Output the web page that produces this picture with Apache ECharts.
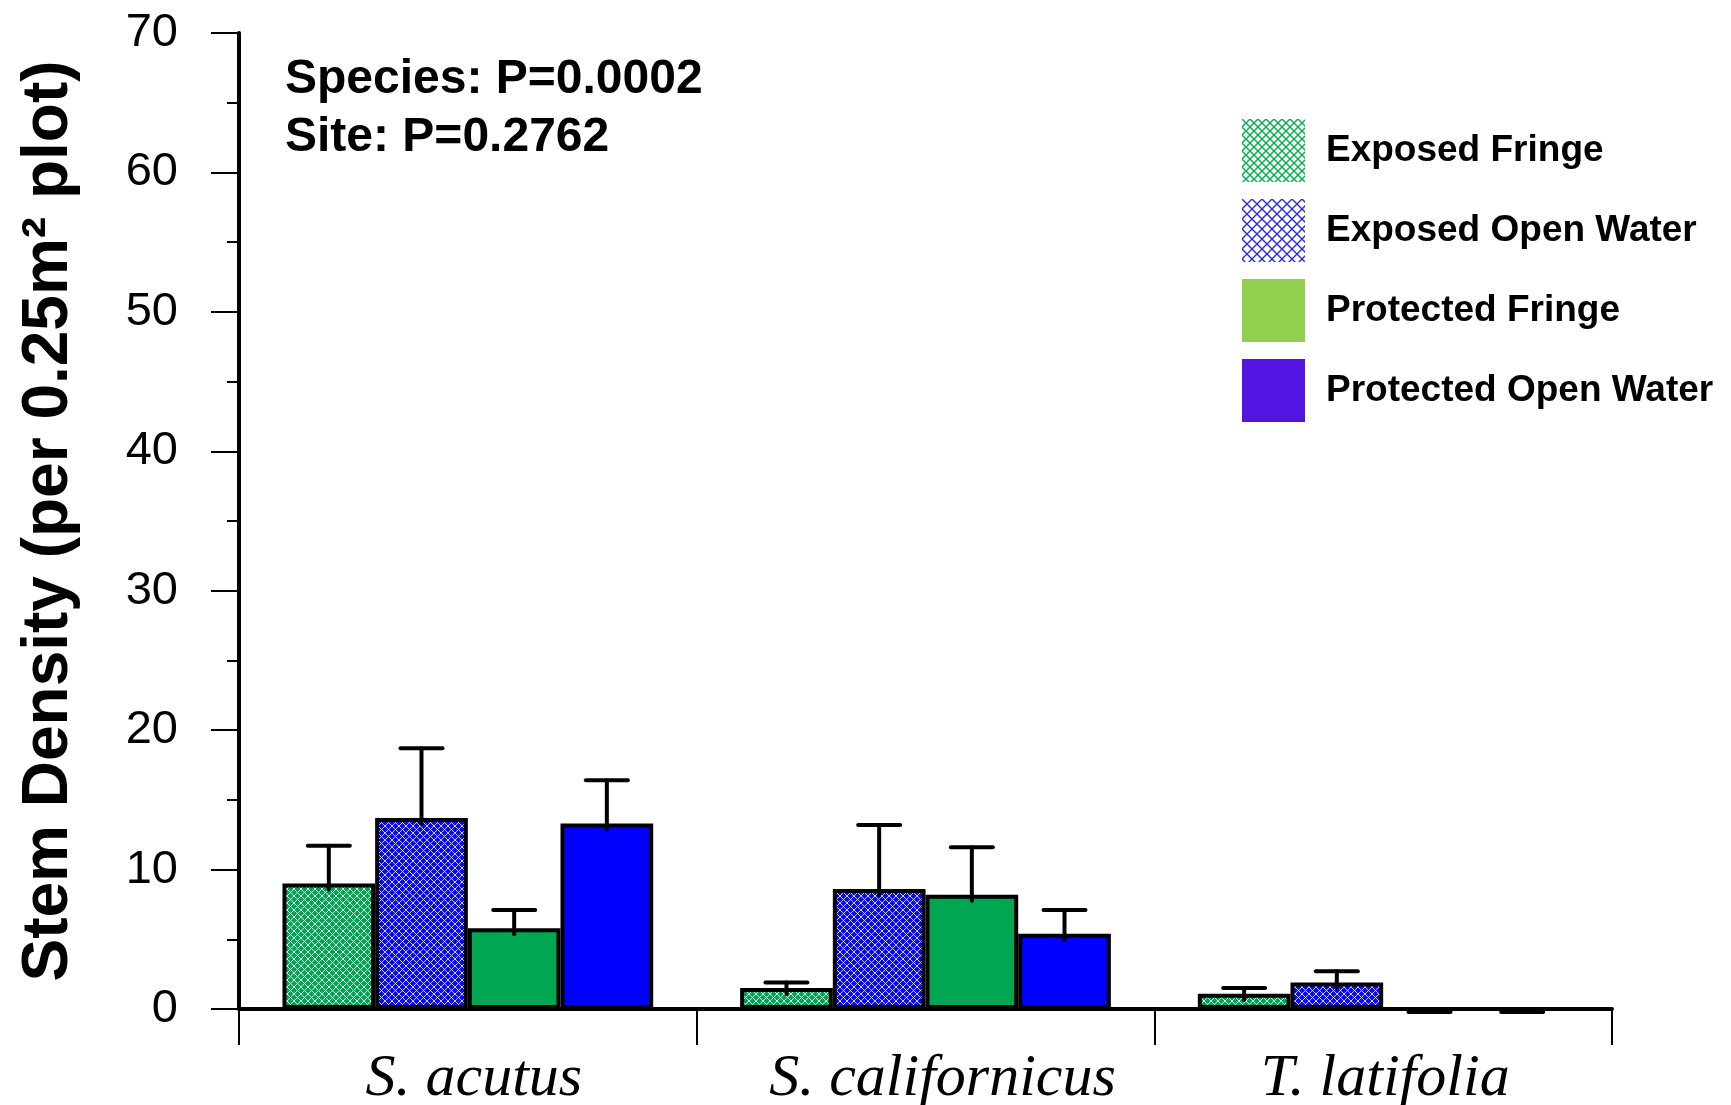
<!DOCTYPE html>
<html>
<head>
<meta charset="utf-8">
<script src="https://cdn.jsdelivr.net/npm/echarts@6/dist/echarts.min.js"></script>
<style>
  html, body { margin: 0; padding: 0; background: #fff; }
  #chart { width: 1731px; height: 1105px; }
</style>
</head>
<body>
<div id="chart"></div>
<script>
// Stem density by species and site (mean ± SE per 0.25 m² plot)
const species = ['S. acutus', 'S. californicus', 'T. latifolia'];
const seriesNames = ['Exposed Fringe', 'Exposed Open Water', 'Protected Fringe', 'Protected Open Water'];
const exposedFringe = [9.0, 1.5, 1.1];
const exposedOpenWater = [13.7, 8.6, 1.9];
const protectedFringe = [5.8, 8.2, 0];
const protectedOpenWater = [13.3, 5.4, 0];
const seExposedFringe = [2.7, 0.4, 0.4];
const seExposedOpenWater = [5.0, 4.6, 0.8];
const seProtectedFringe = [1.3, 3.4, 0];
const seProtectedOpenWater = [3.1, 1.7, 0];
const yTicks = [0, 10, 20, 30, 40, 50, 60, 70];
const statsText = ['Species: P=0.0002', 'Site: P=0.2762'];

const means = [exposedFringe, exposedOpenWater, protectedFringe, protectedOpenWater];
const errors = [seExposedFringe, seExposedOpenWater, seProtectedFringe, seProtectedOpenWater];

// crosshatch tiles
function hatch(bg, line, size, width) {
  const c = document.createElement('canvas');
  c.width = size; c.height = size;
  const ctx = c.getContext('2d');
  ctx.fillStyle = bg;
  ctx.fillRect(0, 0, size, size);
  ctx.strokeStyle = line;
  ctx.lineWidth = width;
  ctx.beginPath();
  ctx.moveTo(0, 0); ctx.lineTo(size, size);
  ctx.moveTo(size, 0); ctx.lineTo(0, size);
  ctx.stroke();
  return { image: c, repeat: 'repeat' };
}

const greenHatchBar = hatch('#00A651', 'rgba(255,255,255,0.85)', 7, 1);
const blueHatchBar = hatch('#0a0af5', 'rgba(255,255,255,0.8)', 7, 1);
const greenHatchKey = hatch('#ffffff', '#00B04a', 8, 1.4);
const blueHatchKey = hatch('#ffffff', '#2a2ae6', 10, 1.4);

const barFills = [greenHatchBar, blueHatchBar, '#00A651', '#0000FF'];
const keyFills = [greenHatchKey, blueHatchKey, '#92D050', '#5214E0'];

const CAT_GAP = 0.19;
const nSeries = seriesNames.length;

const barSeries = seriesNames.map((name, i) => ({
  name: name,
  type: 'bar',
  data: means[i],
  barGap: '0%',
  barCategoryGap: (CAT_GAP * 100) + '%',
  itemStyle: { color: barFills[i], borderColor: '#000', borderWidth: 4 },
  z: 2
}));

const errorData = [];
means.forEach((vals, s) => {
  vals.forEach((v, c) => errorData.push([c, v, errors[s][c], s]));
});

const errorSeries = {
  type: 'custom',
  name: 'SE',
  data: errorData,
  z: 5,
  silent: true,
  renderItem: function (params, api) {
    const c = api.value(0), v = api.value(1), se = api.value(2), s = api.value(3);
    const band = api.size([1, 0])[0];
    const bw = band * (1 - CAT_GAP) / nSeries;
    const cx = api.coord([c, 0])[0] - band * (1 - CAT_GAP) / 2 + (s + 0.5) * bw;
    const yTop = api.coord([c, v])[1];
    const yCap = api.coord([c, v + se])[1];
    const capHalf = 21;
    const style = { stroke: '#000', lineWidth: 4, lineCap: 'round' };
    if (v === 0 && se === 0) {
      const y0 = yTop + 3;
      return { type: 'line', shape: { x1: cx - capHalf, y1: y0, x2: cx + capHalf, y2: y0 }, style: style };
    }
    return {
      type: 'group',
      children: [
        { type: 'line', shape: { x1: cx, y1: yTop + 6, x2: cx, y2: yCap }, style: style },
        { type: 'line', shape: { x1: cx - capHalf, y1: yCap, x2: cx + capHalf, y2: yCap }, style: style }
      ]
    };
  }
};

// per-label horizontal nudges for the species names
const labelPadLeft = [12, 34, 4];

const chart = echarts.init(document.getElementById('chart'), null, { renderer: 'canvas' });
chart.setOption({
  animation: false,
  backgroundColor: '#ffffff',
  textStyle: { fontFamily: 'Liberation Sans, Arial, sans-serif' },
  grid: { left: 239, right: 119, top: 33, bottom: 96, containLabel: false, outerBoundsMode: 'none' },
  legend: {
    orient: 'vertical',
    left: 1237,
    top: 114,
    itemWidth: 63,
    itemHeight: 63,
    itemGap: 17,
    icon: 'rect',
    selectedMode: false,
    textStyle: { fontSize: 37, fontWeight: 'bold', color: '#000', padding: [0, 0, 0, 16],
      fontFamily: 'Liberation Sans, Arial, sans-serif' },
    data: seriesNames.map((n, i) => ({
      name: n,
      itemStyle: { color: keyFills[i], borderWidth: 0 }
    }))
  },
  xAxis: {
    type: 'category',
    data: species.map((s, i) => ({ value: s, textStyle: { padding: [0, 0, 0, labelPadLeft[i]] } })),
    axisLine: { lineStyle: { color: '#000', width: 4 } },
    axisTick: { show: true, length: 36, lineStyle: { color: '#000', width: 2 } },
    axisLabel: {
      fontSize: 60, fontStyle: 'italic', color: '#000', margin: 40,
      fontFamily: 'Liberation Serif, Times New Roman, serif'
    }
  },
  yAxis: {
    type: 'value',
    min: yTicks[0],
    max: yTicks[yTicks.length - 1],
    interval: 10,
    name: 'Stem Density (per 0.25m\u00B2 plot)',
    nameLocation: 'middle',
    nameGap: 158,
    nameTextStyle: { fontSize: 64, fontWeight: 'bold', color: '#000',
      fontFamily: 'Liberation Sans, Arial, sans-serif' },
    axisLine: { show: true, lineStyle: { color: '#000', width: 4 } },
    axisTick: { show: true, length: 28, lineStyle: { color: '#000', width: 2 } },
    minorTick: { show: true, splitNumber: 2, length: 12, lineStyle: { color: '#000', width: 2 } },
    splitLine: { show: false },
    axisLabel: { fontSize: 47, color: '#000', margin: 61,
      fontFamily: 'Liberation Sans, Arial, sans-serif' }
  },
  graphic: [{
    type: 'text',
    left: 285,
    top: 51,
    style: {
      text: statsText.join('\n'),
      font: 'bold 48px "Liberation Sans", Arial, sans-serif',
      lineHeight: 58,
      fill: '#000'
    }
  }],
  series: barSeries.concat([errorSeries])
});
</script>
</body>
</html>
